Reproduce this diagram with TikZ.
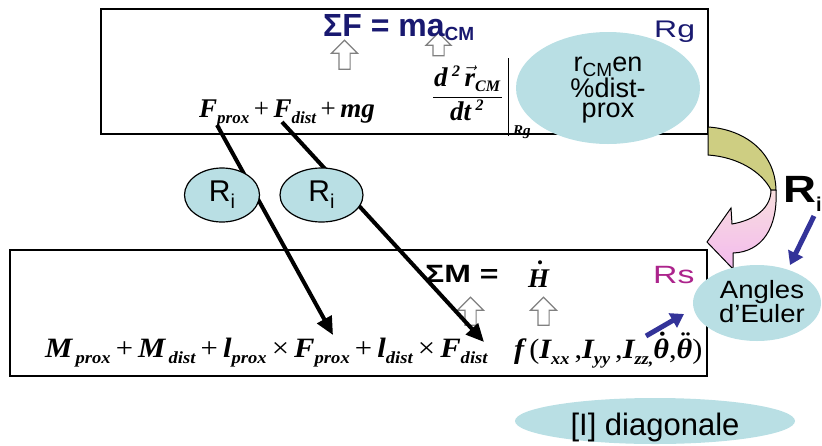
\documentclass[tikz,border=0pt]{standalone}
\usepackage{fontspec}
\setmainfont{Liberation Sans}
\newfontfamily\tms{Liberation Serif}
\usetikzlibrary{shapes.geometric,shapes.arrows,arrows.meta}
\definecolor{navyt}{RGB}{25,25,112}
\definecolor{lblue}{RGB}{185,223,228}
\definecolor{olivegr}{RGB}{206,206,130}
\definecolor{pinkA}{RGB}{248,222,222}
\definecolor{pinkB}{RGB}{243,186,238}
\definecolor{magt}{RGB}{172,36,140}
\definecolor{slateb}{RGB}{51,51,153}
\newcommand\fs[1]{\fontsize{#1}{#1}\selectfont}
\newcommand\mv[1]{{\tms\bfseries\itshape #1}}
\newcommand\sv[1]{\raisebox{-6pt}{\fs{17}\tms\bfseries\itshape #1}}
\newcommand\pl{{\tms\,+\,}}
\newcommand\tm{{\tms\,×\,}}
\newcommand\dotab[3]{\ooalign{\hidewidth\kern#1\raisebox{#2}{\tms\bfseries ˙}\hidewidth\cr\mv{#3}\cr}}
\newcommand\ddotab[3]{\ooalign{\hidewidth\kern#1\raisebox{#2}{\tms\bfseries ¨}\hidewidth\cr\mv{#3}\cr}}
\tikzset{
  frame/.style={draw=black,line width=2pt},
  hollow/.style={single arrow,draw=gray,line width=1.2pt,fill=white,shape border rotate=90,
    inner sep=5pt,single arrow head extend=7.5pt,minimum height=28pt},
  bigarrow/.style={line width=4pt,-{Triangle[length=18pt,width=16pt]}},
  bluearrow/.style={draw=slateb,line width=5pt,-{Triangle[length=13pt,width=16pt]}},
  riell/.style={ellipse,draw=black,line width=1.2pt,fill=lblue,inner sep=0pt,minimum height=54pt,font=\fs{30}},
  bubble/.style={ellipse,fill=lblue,inner sep=0pt},
  txt/.style={inner sep=0pt,anchor=base west},
  ctxt/.style={inner sep=0pt,anchor=base},
}
\begin{document}
\begin{tikzpicture}[x=1pt,y=-1pt]
\useasboundingbox (0,0) rectangle (822,445);
\clip (0,0) rectangle (822,445);
% boxes
\node[frame,inner sep=0pt,minimum width=607pt,minimum height=125pt] (topbox) at (404.5,71.5) {};
\node[frame,inner sep=0pt,minimum width=697pt,minimum height=126pt] (botbox) at (358.5,313) {};
% hollow arrows
\node[hollow,minimum height=29pt,single arrow head extend=7.5pt] (u1) at (344.5,57.5) {};
\node[hollow,minimum height=23pt,single arrow head extend=7pt] (u2) at (438.5,47) {};
\node[hollow] (u3) at (470.5,314) {};
\node[hollow] (u4) at (543.5,314) {};
% black arrows
\coordinate (aS) at (217,125);
\coordinate (aE) at (333,335);
\coordinate (bS) at (282,122);
\coordinate (bE) at (484,342);
\draw[bigarrow] (aS) -- (aE);
\draw[bigarrow] (bS) -- (bE);
% Ri ellipses
\node[riell,minimum width=75pt] (ri1) at (222,195) {R\raisebox{-7pt}{\fs{20}i}};
\node[riell,minimum width=83pt] (ri2) at (321.5,195) {R\raisebox{-7pt}{\fs{20}i}};
% top texts
\node[txt,text=navyt,font=\fs{32}\bfseries] (sf) at (323,36) {ΣF = ma\raisebox{-4pt}{\fs{19}CM}};
\node[txt,text=navyt,font=\fs{24}] (rg) at (654,37) {\scalebox{1.33}[1]{Rg}};
\node[txt,font=\fs{27}] (ftop) at (199,117) {\mv{F}\sv{prox}\pl\mv{F}\sv{dist}\pl\mv{mg}};
% fraction
\node[txt,font=\fs{27}] (num) at (434,86) {\mv{d}\,\raisebox{10pt}{\fs{16}\mv{2}}\,$\vec{\mbox{\mv{r}}}$\raisebox{-5pt}{\fs{16}\mv{CM}}};
\coordinate (fb1) at (433,97);
\coordinate (fb2) at (502,97);
\draw[line width=1pt] (fb1) -- (fb2);
\node[txt,font=\fs{27}] (den) at (450,120) {\mv{dt}\,\raisebox{10pt}{\fs{16}\mv{2}}};
\coordinate (vb1) at (508,58);
\coordinate (vb2) at (508,136);
\draw[line width=1pt] (vb1) -- (vb2);
\node[txt,font=\fs{15}] (rgs) at (513,135) {\mv{Rg}};
% rcm bubble
\node[bubble,minimum width=184pt,minimum height=112pt] (rcm) at (608,88) {};
\node[ctxt,font=\fs{27}] (rcm1) at (608,71) {r\raisebox{-5pt}{\fs{19}CM}en};
\node[ctxt,font=\fs{27}] (rcm2) at (608,97) {\%dist-};
\node[ctxt,font=\fs{27}] (rcm3) at (608,117) {prox};
% curved arrow
\coordinate (J1) at (776,190);
\coordinate (J2) at (771,190);
\draw[line width=1pt,fill=olivegr] (708,127) .. controls (742,129) and (775,150) .. (J1)
  -- (J2) .. controls (762,172) and (738,157) .. (708,155) -- cycle;
\draw[line width=1pt,top color=pinkA,bottom color=pinkB] (J1) .. controls (778,228) and (762,252) .. (733,253)
  -- (733,269) -- (707,242) -- (731,208) -- (732,224) .. controls (755,220) and (771,208) .. (J2) -- cycle;
% big Ri
\node[txt,font=\fs{38}\bfseries] (bigR) at (783,202) {\scalebox{1.2}[1]{R}\raisebox{-9pt}{\fs{20}i}};
% Angles bubble
\node[bubble,minimum width=128pt,minimum height=76pt] (euler) at (757,303) {};
\node[ctxt,font=\fs{25}] (eu1) at (762,298) {\scalebox{1.1}[1]{Angles}};
\node[ctxt,font=\fs{25}] (eu2) at (762,322) {\scalebox{1.1}[1]{d’Euler}};
% blue arrows
\coordinate (c1s) at (814,216);
\coordinate (c1e) at (790,265);
\coordinate (c2s) at (646,336);
\coordinate (c2e) at (684,314);
\draw[bluearrow] (c1s) -- (c1e);
\draw[bluearrow] (c2s) -- (c2e);
% bottom texts
\node[txt,font=\fs{25}\bfseries] (sm) at (425,282) {\scalebox{1.28}[1]{ΣM =}};
\node[txt,font=\fs{27}] (hd) at (528,287) {\dotab{3pt}{8pt}{H}};
\node[txt,text=magt,font=\fs{25}] (rs) at (653,283) {\scalebox{1.35}[1]{Rs}};
\node[txt,font=\fs{28}] (fbot) at (45,357) {\scalebox{1.095}[1]{\mv{M}\sv{\,prox}\pl\mv{M}\sv{\,dist}\pl\mv{l}\sv{prox}\tm\mv{F}\sv{prox}\pl\mv{l}\sv{dist}\tm\mv{F}\sv{dist}}};
\node[txt,font=\fs{28}] (ff) at (514,358) {\scalebox{1.08}[1]{\mv{f}\,{\tms(}\mv{I}\sv{xx}{\tms\,,}\mv{I}\sv{yy}{\tms\,,}\mv{I}\sv{zz,}\dotab{2pt}{7pt}{θ}{\tms,}\ddotab{2pt}{7pt}{θ}{\tms)}}};
% diagonale bubble
\node[bubble,minimum width=280pt,minimum height=46pt] (diag) at (655,421) {};
\node[ctxt,font=\fs{31}] (diagt) at (655,435) {[I] diagonale};
\end{tikzpicture}
\end{document}
